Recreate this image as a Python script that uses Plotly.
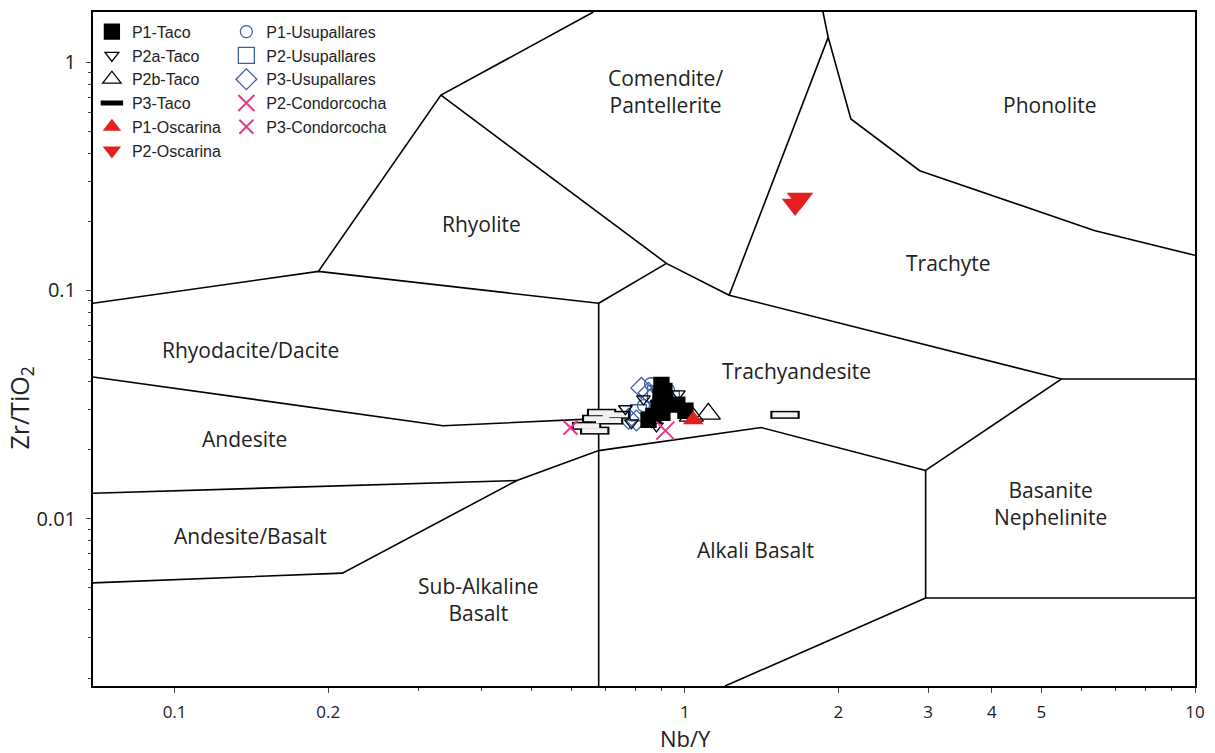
import numpy as np
import plotly.graph_objects as go

# ---------------------------------------------------------------------------
# Sample analyses: Nb/Y (x) and Zr/TiO2 (y)
# ---------------------------------------------------------------------------
p1_taco_nby = [0.900, 0.912, 0.896, 0.916, 0.888, 0.904, 0.868, 0.849, 0.967, 1.003]
p1_taco_zr = [0.0386, 0.0363, 0.0342, 0.0322, 0.0306, 0.0291, 0.0282, 0.0271, 0.0316, 0.0297]

p2a_taco_nby = [0.765, 0.786, 0.860, 0.971, 0.830, 0.880]
p2a_taco_zr = [0.0303, 0.0263, 0.0266, 0.0352, 0.0335, 0.0255]

p2b_taco_nby = [1.112, 1.030]
p2b_taco_zr = [0.0288, 0.0282]

p3_taco_nby = [0.642, 0.672, 0.687, 0.709, 0.731, 0.666, 1.572]
p3_taco_zr = [0.0255, 0.0274, 0.0291, 0.0269, 0.0285, 0.0243, 0.0285]

p1_oscarina_nby = [1.039]
p1_oscarina_zr = [0.0271]

p2_oscarina_nby = [1.682, 1.645]
p2_oscarina_zr = [0.253, 0.238]

p1_usupallares_nby = [0.857, 0.929, 0.830]
p1_usupallares_zr = [0.0390, 0.0367, 0.0313]

p2_usupallares_nby = [0.876, 0.941, 0.811]
p2_usupallares_zr = [0.0352, 0.0335, 0.0291]

p3_usupallares_nby = [0.822, 0.849, 0.776, 0.804, 0.896]
p3_usupallares_zr = [0.0374, 0.0356, 0.0274, 0.0269, 0.0367]

p2_condorcocha_nby = [0.916]
p2_condorcocha_zr = [0.0243]

p3_condorcocha_nby = [0.597]
p3_condorcocha_zr = [0.0250]

# ---------------------------------------------------------------------------
# Field boundaries of the Nb/Y - Zr/TiO2 classification diagram
# (each a polyline of (Nb/Y, Zr/TiO2) vertices)
# ---------------------------------------------------------------------------
X_MIN, X_MAX = 0.0692, 10.0
Y_MIN, Y_MAX = 0.001845, 1.663

rhyolite_base = [(X_MIN, 0.0879), (0.1914, 0.1213), (0.678, 0.0879)]
rhyolite_left = [(0.1914, 0.1213), (0.3327, 0.7185), (0.662, Y_MAX)]
comendite_base = [(0.3327, 0.7185), (0.9204, 0.1315), (1.2218, 0.0953)]
rhyolite_right = [(0.9204, 0.1315), (0.678, 0.0879), (0.678, Y_MIN)]
trachyte_left = [(1.2218, 0.0953), (1.910, 1.288), (1.866, Y_MAX)]
phonolite_base = [(1.910, 1.288), (2.116, 0.565), (2.887, 0.335),
                  (6.346, 0.1832), (X_MAX, 0.1426)]
trachyte_base = [(1.2218, 0.0953), (5.470, 0.0409), (X_MAX, 0.0409)]
basanite_left = [(5.470, 0.0409), (2.965, 0.01626), (2.965, 0.004487),
                 (X_MAX, 0.004487)]
alkali_right = [(2.965, 0.004487), (1.1995, Y_MIN)]
basalt_top = [(2.965, 0.01626), (1.4125, 0.02506), (0.678, 0.01986),
              (0.4688, 0.01469), (0.2133, 0.005768), (X_MIN, 0.005224)]
andesite_top = [(X_MIN, 0.04178), (0.3357, 0.02553), (0.678, 0.02742)]
andesite_base = [(X_MIN, 0.01291), (0.4688, 0.01469)]

boundaries = [rhyolite_base, rhyolite_left, comendite_base, rhyolite_right,
              trachyte_left, phonolite_base, trachyte_base, basanite_left,
              alkali_right, basalt_top, andesite_top, andesite_base]

# Field names and where they are written (Nb/Y, Zr/TiO2)
field_names = ["Comendite/<br>Pantellerite", "Phonolite", "Rhyolite", "Trachyte",
               "Rhyodacite/Dacite", "Trachyandesite", "Andesite",
               "Basanite<br>Nephelinite", "Andesite/Basalt", "Alkali Basalt",
               "Sub-Alkaline<br>Basalt"]
field_nby = [0.917, 5.20, 0.400, 3.29, 0.141, 1.652, 0.137, 5.22, 0.141, 1.374, 0.395]
field_zr = [0.748, 0.650, 0.1965, 0.1315, 0.0548, 0.0444, 0.0224, 0.01167,
            0.00837, 0.00728, 0.0044]

x_major = [0.1, 0.2, 1, 2, 3, 4, 5, 10]
x_major_text = ["0.1", "0.2", "1", "2", "3", "4", "5", "10"]
x_minor = [0.3, 0.4, 0.5, 0.6, 0.7, 0.8, 0.9, 6, 7, 8, 9]
y_major = [0.01, 0.1, 1]
y_major_text = ["0.01", "0.1", "1"]
y_minor = [m * d for d in (0.001, 0.01, 0.1) for m in range(2, 10)]

BLUE = "#3f5fa8"
PINK = "#e23a8e"
RED = "#e41f1f"
TEXT = "#222222"
LABEL_FONT = "Open Sans"

fig = go.Figure()

for seg in boundaries:
    xs, ys = zip(*seg)
    fig.add_trace(go.Scatter(x=xs, y=ys, mode="lines",
                             line=dict(color="black", width=1.6),
                             showlegend=False, hoverinfo="skip"))


def add_points(name, xs, ys, symbol, size, color, fill=None, lw=1.3,
               legend="legend", rank=1, show=True):
    marker = dict(symbol=symbol, size=size,
                  color=fill if fill is not None else color,
                  line=dict(color=color, width=lw))
    fig.add_trace(go.Scatter(x=xs, y=ys, mode="markers", name=name,
                             marker=marker, legend=legend, legendrank=rank,
                             showlegend=show, cliponaxis=False))


# Usupallares (drawn underneath the Taco samples)
add_points("P1-Usupallares", p1_usupallares_nby, p1_usupallares_zr,
           "circle-open", 12, BLUE, legend="legend2", rank=1)
add_points("P2-Usupallares", p2_usupallares_nby, p2_usupallares_zr,
           "square-open", 16, BLUE, legend="legend2", rank=2)
add_points("P3-Usupallares", p3_usupallares_nby, p3_usupallares_zr,
           "diamond-open", 16, BLUE, legend="legend2", rank=3)

# Taco (P3 bars: dark outline with a pale core on top)
add_points("P3-Taco", p3_taco_nby, p3_taco_zr, "line-ew", 21, "black",
           lw=8, legend="legend", rank=4)
add_points("P3-Taco", p3_taco_nby, p3_taco_zr, "line-ew", 18, "#f2f2f2",
           lw=5, show=False)
add_points("P2a-Taco", p2a_taco_nby, p2a_taco_zr, "triangle-down-open", 12,
           "black", legend="legend", rank=2)
add_points("P1-Taco", p1_taco_nby, p1_taco_zr, "square", 15, "black",
           fill="black", legend="legend", rank=1)
add_points("P2b-Taco", p2b_taco_nby, p2b_taco_zr, "triangle-up-open", 21,
           "black", legend="legend", rank=3)

# Oscarina
add_points("P1-Oscarina", p1_oscarina_nby, p1_oscarina_zr, "triangle-up", 18,
           RED, fill=RED, lw=0, legend="legend", rank=5)
add_points("P2-Oscarina", p2_oscarina_nby, p2_oscarina_zr, "triangle-down", 23,
           RED, fill=RED, lw=0, legend="legend", rank=6)

# Condorcocha
add_points("P2-Condorcocha", p2_condorcocha_nby, p2_condorcocha_zr, "x-thin",
           18, PINK, lw=2, legend="legend2", rank=4)
add_points("P3-Condorcocha", p3_condorcocha_nby, p3_condorcocha_zr, "x-thin",
           14, PINK, lw=2, legend="legend2", rank=5)

for name, fx, fy in zip(field_names, field_nby, field_zr):
    fig.add_annotation(x=np.log10(fx), y=np.log10(fy), xref="x", yref="y",
                       text=name, showarrow=False,
                       font=dict(family=LABEL_FONT, size=21, color=TEXT))

# Axis titles
fig.add_annotation(x=0.5376, y=-0.077, xref="paper", yref="paper",
                   text="Nb/Y", showarrow=False, xanchor="center",
                   yanchor="middle",
                   font=dict(family=LABEL_FONT, size=22, color=TEXT))
fig.add_annotation(x=-0.066, y=0.412, xref="paper", yref="paper",
                   text="Zr/TiO<sub>2</sub>", showarrow=False, textangle=-90,
                   xanchor="center", yanchor="middle",
                   font=dict(family=LABEL_FONT, size=25, color=TEXT))

legend_style = dict(bgcolor="rgba(0,0,0,0)", borderwidth=0,
                    font=dict(family="Liberation Sans, Arial", size=16,
                              color=TEXT),
                    yanchor="top", xanchor="left", itemsizing="trace",
                    traceorder="normal")

fig.update_layout(
    width=1215, height=753,
    margin=dict(l=93, r=17, t=10, b=67),
    paper_bgcolor="white", plot_bgcolor="white",
    legend=dict(x=-0.001, y=0.996, **legend_style),
    legend2=dict(x=0.121, y=0.996, **legend_style),
    xaxis=dict(
        type="log", range=[np.log10(X_MIN), np.log10(X_MAX)],
        tickvals=x_major, ticktext=x_major_text,
        ticks="outside", ticklen=5, tickwidth=1, tickcolor="#444444",
        minor=dict(tickvals=x_minor, ticks="outside", ticklen=3,
                   tickcolor="#444444"),
        showgrid=False, zeroline=False,
        showline=True, mirror=True, linecolor="black", linewidth=2,
        tickfont=dict(family="Liberation Sans Narrow, Open Sans", size=17,
                      color=TEXT),
        ticklabelstandoff=5,
    ),
    yaxis=dict(
        type="log", range=[np.log10(Y_MIN), np.log10(Y_MAX)],
        tickvals=y_major, ticktext=y_major_text,
        ticks="outside", ticklen=5, tickwidth=1, tickcolor="#444444",
        minor=dict(tickvals=y_minor, ticks="outside", ticklen=3,
                   tickcolor="#444444"),
        showgrid=False, zeroline=False,
        showline=True, mirror=True, linecolor="black", linewidth=2,
        tickfont=dict(family=LABEL_FONT, size=20, color=TEXT),
        ticklabelstandoff=6,
    ),
)

fig.write_html("out.html")
